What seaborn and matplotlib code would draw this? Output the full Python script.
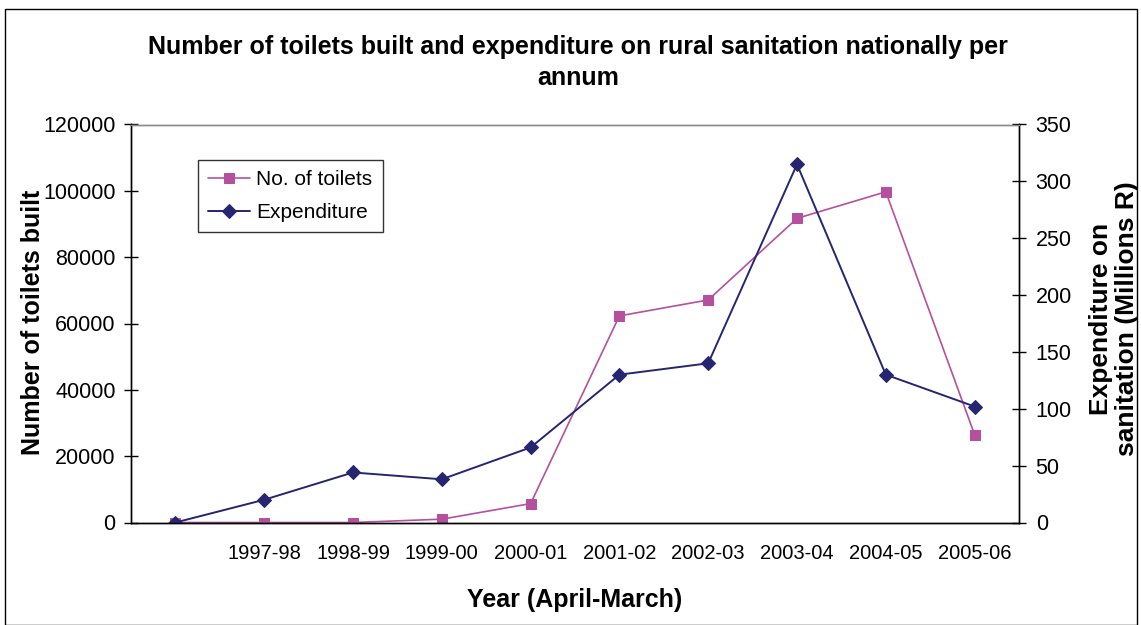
import numpy as np
import pandas as pd
import matplotlib
matplotlib.use("Agg")
import matplotlib.pyplot as plt
from matplotlib.patches import Rectangle
import seaborn as sns

# Financial years (April-March); the first year carries no label on the axis
years = ["", "1997-98", "1998-99", "1999-00", "2000-01", "2001-02",
         "2002-03", "2003-04", "2004-05", "2005-06"]
toilets = [0, 0, 0, 1000, 5700, 62300, 67100, 91700, 99700, 26500]
expenditure = [0, 20, 44, 38, 66, 130, 140, 315, 130, 102]

left_ticks = [0, 20000, 40000, 60000, 80000, 100000, 120000]
right_ticks = [0, 50, 100, 150, 200, 250, 300, 350]

PINK = "#B5509F"
NAVY = "#252570"

sns.set_theme(style="white")
plt.rcParams["font.family"] = ["Liberation Sans", "DejaVu Sans"]
plt.rcParams["text.color"] = "black"

df = pd.DataFrame({"pos": np.arange(len(years)), "year": years,
                   "toilets": toilets, "expenditure": expenditure})

fig = plt.figure(figsize=(11.41, 6.25), dpi=100)
ax = fig.add_axes([131 / 1141, 1 - 522.5 / 625, 888 / 1141, 398 / 625])
ax2 = ax.twinx()

sns.lineplot(data=df, x="pos", y="toilets", ax=ax, color=PINK, lw=1.2,
             marker="s", markersize=7, markeredgecolor=PINK,
             label="No. of toilets", legend=False)
sns.lineplot(data=df, x="pos", y="expenditure", ax=ax2, color=NAVY, lw=1.4,
             marker="D", markersize=7, markeredgecolor=NAVY,
             label="Expenditure", legend=False)

n = len(years)
ax.set_xlim(-0.5, n - 0.5)
ax.set_ylim(0, 120000)
ax2.set_ylim(0, 350)
ax.set_yticks(left_ticks)
ax.set_yticklabels([str(v) for v in left_ticks])
ax2.set_yticks(right_ticks)
ax2.set_yticklabels([str(v) for v in right_ticks])

# tick marks on category boundaries, labels centred under each category
ax.set_xticks(np.arange(n + 1) - 0.5)
ax.set_xticklabels([])
ax.set_xticks(np.arange(n), minor=True)
ax.set_xticklabels(years, minor=True)
ax.tick_params(axis="x", which="major", direction="inout", length=10,
               width=1, color="black")
ax.tick_params(axis="x", which="minor", length=0, pad=15.5, labelsize=14.5,
               labelcolor="black")
ax.tick_params(axis="y", direction="inout", length=10, width=1,
               color="black", pad=6, labelsize=15.5, labelcolor="black")
ax2.tick_params(axis="y", direction="inout", length=10, width=1,
                color="black", pad=7, labelsize=15.5, labelcolor="black")

for a in (ax, ax2):
    a.set_xlabel("")
    a.set_ylabel("")
    a.grid(False)
    for side in ("left", "right", "bottom"):
        a.spines[side].set_color("black")
        a.spines[side].set_linewidth(1)
    a.spines["top"].set_color("#8c8c8c")
    a.spines["top"].set_linewidth(1)
ax.patch.set_alpha(0)

h1, l1 = ax.get_legend_handles_labels()
h2, l2 = ax2.get_legend_handles_labels()
leg = ax2.legend(h1 + h2, l1 + l2, loc="upper left",
                 bbox_to_anchor=(0.0755, 0.911), borderaxespad=0,
                 fontsize=15, frameon=True, fancybox=False,
                 edgecolor="black", handlelength=2.0, borderpad=0.5,
                 labelspacing=0.65, handletextpad=0.3, labelcolor="black")
leg.get_frame().set_linewidth(1)

fig.text(578 / 1141, 1 - 62.5 / 625,
         "Number of toilets built and expenditure on rural sanitation nationally per\nannum",
         ha="center", va="center", fontsize=18, fontweight="bold",
         linespacing=1.38, color="black")
fig.text(575 / 1141, 1 - 600 / 625, "Year (April-March)", ha="center",
         va="center", fontsize=18, fontweight="bold", color="black")
fig.text(33 / 1141, 1 - 322 / 625, "Number of toilets built", ha="center",
         va="center", rotation=90, fontsize=18, fontweight="bold",
         color="black")
fig.text(1114 / 1141, 1 - 319 / 625, "Expenditure on\nsanitation (Millions R)",
         ha="center", va="center", rotation=90, fontsize=19,
         fontweight="bold", linespacing=1.15, color="black")

fig.patches.append(Rectangle((5 / 1141, 0), 1132 / 1141, 1 - 9 / 625,
                             transform=fig.transFigure, fill=False,
                             edgecolor="black", lw=1))

fig.savefig("out.png", dpi=100)
